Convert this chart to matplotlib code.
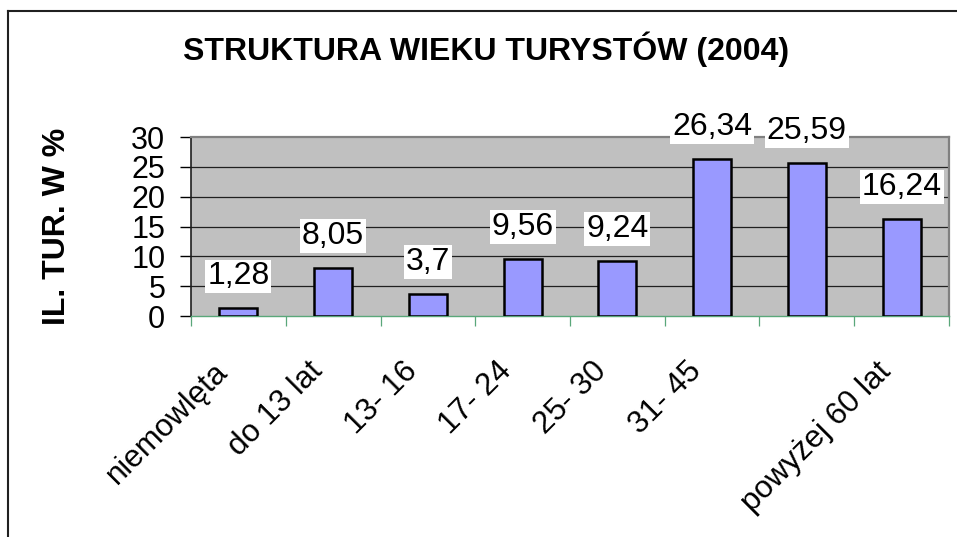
import matplotlib
matplotlib.use("Agg")
import matplotlib.pyplot as plt
from matplotlib.lines import Line2D
import matplotlib.transforms as mtrans

plt.rcParams["font.family"] = ["Liberation Sans", "DejaVu Sans"]

# dane
kategorie = ["niemowlęta", "do 13 lat", "13- 16", "17- 24", "25- 30", "31- 45", "", "powyżej 60 lat"]
wartosci = [1.28, 8.05, 3.7, 9.56, 9.24, 26.34, 25.59, 16.24]
etykiety = ["1,28", "8,05", "3,7", "9,56", "9,24", "26,34", "25,59", "16,24"]
y_ticks = [0, 5, 10, 15, 20, 25, 30]

W, H = 957, 537
fig = plt.figure(figsize=(W / 100, H / 100), dpi=100)
fig.patch.set_facecolor("white")

ax = fig.add_axes([191 / W, 1 - 316 / H, (949 - 191) / W, (316 - 137) / H])
ax.set_facecolor("#C0C0C0")

x = list(range(len(wartosci)))
ax.bar(x, wartosci, width=0.4, color="#9999FF", edgecolor="black", linewidth=1.8, zorder=3)

for xi, v, t in zip(x, wartosci, etykiety):
    ax.annotate(t, (xi, v), xytext=(0, 23), textcoords="offset points",
                ha="center", va="center", fontsize=23, zorder=5, annotation_clip=False,
                bbox=dict(boxstyle="square,pad=0.06", fc="white", ec="none"))

ax.set_ylim(0, 30)
ax.set_xlim(-0.5, len(wartosci) - 0.5)
ax.set_yticks(y_ticks)
ax.set_yticklabels([str(v) for v in y_ticks], fontsize=22)
ax.tick_params(axis="y", length=8, width=1, color="black", pad=10.5)
for v in y_ticks[1:-1]:
    ax.axhline(v, color="#202020", linewidth=0.9, zorder=1)

# osie X: kreski na granicach kategorii, podpisy na srodkach
ax.set_xticks([i - 0.5 for i in range(len(wartosci) + 1)])
ax.set_xticklabels([])
ax.tick_params(axis="x", which="major", length=7, width=0.9, color="#5aa77a")
ax.set_xticks(x, minor=True)
ax.set_xticklabels(kategorie, minor=True, rotation=45, ha="right",
                   rotation_mode="anchor", fontsize=22.5)
ax.tick_params(axis="x", which="minor", length=0, pad=29)
off = mtrans.ScaledTranslation(-0.26, 0, fig.dpi_scale_trans)
for lab in ax.get_xticklabels(minor=True):
    lab.set_transform(lab.get_transform() + off)

ax.spines["bottom"].set_color("#5aa77a")
ax.spines["bottom"].set_linewidth(1)
ax.spines["left"].set_color("#202020")
ax.spines["left"].set_linewidth(1.2)
ax.spines["top"].set_color("#808080")
ax.spines["top"].set_linewidth(1.6)
ax.spines["right"].set_color("#808080")
ax.spines["right"].set_linewidth(1.6)

fig.text(57 / W, 1 - 226 / H, "IL. TUR. W %", rotation=90, ha="center", va="center",
         fontsize=23, fontweight="bold")

fig.text(486 / W, 1 - 49 / H, "STRUKTURA WIEKU TURYSTÓW (2004)", ha="center", va="center",
         fontsize=23, fontweight="bold")

# ramka wykresu
fig.add_artist(Line2D([8 / W, 8 / W], [0, 1 - 11 / H], color="#202020", linewidth=1.5, transform=fig.transFigure))
fig.add_artist(Line2D([8 / W, 1], [1 - 11 / H, 1 - 11 / H], color="#202020", linewidth=1.5, transform=fig.transFigure))

fig.savefig("out.png", dpi=100, facecolor="white")
